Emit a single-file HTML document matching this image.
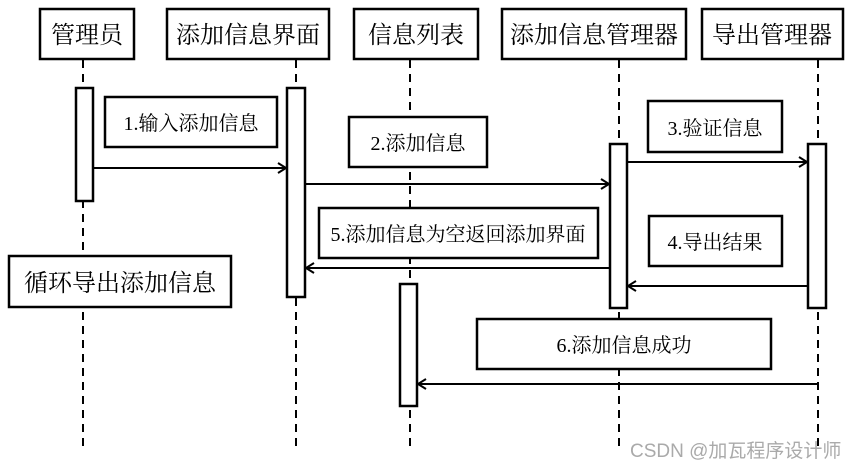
<!DOCTYPE html>
<html><head><meta charset="utf-8"><style>
html,body{margin:0;padding:0;background:#fff;}
svg{display:block;}
text{font-family:"Liberation Serif","Noto Serif CJK SC","Noto Sans CJK SC",serif;fill:#000;}
</style></head><body>
<svg width="855" height="468" viewBox="0 0 855 468" xmlns="http://www.w3.org/2000/svg">
<defs>
<marker id="a" markerWidth="12" markerHeight="12" refX="10" refY="6" orient="auto" markerUnits="userSpaceOnUse">
<path d="M2,1 L10,6 L2,11" fill="none" stroke="#000" stroke-width="2"/>
</marker>
</defs>
<g stroke="#000" stroke-width="2" stroke-dasharray="8,6" fill="none">
<line x1="83" y1="60" x2="83" y2="447"/>
<line x1="296" y1="60" x2="296" y2="447"/>
<line x1="410" y1="60" x2="410" y2="447"/>
<line x1="619" y1="60" x2="619" y2="447"/>
<line x1="818" y1="60" x2="818" y2="447"/>
</g>
<g stroke="#000" stroke-width="2.5" fill="#fff">
<rect x="40" y="9" width="94" height="50"/>
<rect x="167" y="9" width="162" height="50"/>
<rect x="354" y="9" width="124" height="50"/>
<rect x="502" y="9" width="184" height="50"/>
<rect x="702" y="9" width="141" height="50"/>
<rect x="76" y="88" width="17" height="113"/>
<rect x="287" y="88" width="18" height="209"/>
<rect x="400" y="284" width="17" height="122"/>
<rect x="610" y="144" width="17" height="164"/>
<rect x="808" y="144" width="18" height="164"/>
<rect x="105" y="97" width="172" height="50"/>
<rect x="349" y="117" width="138" height="50"/>
<rect x="648" y="101" width="134" height="51"/>
<rect x="319" y="208" width="279" height="50"/>
<rect x="649" y="216" width="133" height="50"/>
<rect x="9" y="256" width="222" height="51"/>
<rect x="477" y="319" width="294" height="50"/>
</g>
<g stroke="#000" stroke-width="2" fill="none" marker-end="url(#a)">
<line x1="93" y1="168" x2="286" y2="168"/>
<line x1="305" y1="184" x2="609" y2="184"/>
<line x1="627" y1="162" x2="807" y2="162"/>
<line x1="610" y1="268" x2="306" y2="268"/>
<line x1="808" y1="286" x2="628" y2="286"/>
<line x1="818" y1="384" x2="418" y2="384"/>
</g>
<g font-size="24" text-anchor="middle">
<text x="87" y="43">管理员</text>
<text x="248" y="43">添加信息界面</text>
<text x="416" y="43">信息列表</text>
<text x="594" y="43">添加信息管理器</text>
<text x="772" y="43">导出管理器</text>
<text x="120" y="291">循环导出添加信息</text>
</g>
<g font-size="20" text-anchor="middle">
<text x="191" y="130">1.输入添加信息</text>
<text x="418" y="150">2.添加信息</text>
<text x="715" y="135">3.验证信息</text>
<text x="458" y="241">5.添加信息为空返回添加界面</text>
<text x="715" y="249">4.导出结果</text>
<text x="624" y="352">6.添加信息成功</text>
</g>
<text x="630" y="457" font-size="19" style="font-family:'Liberation Sans','Noto Sans CJK SC',sans-serif;fill:#aaa">CSDN @加瓦程序设计师</text>
</svg>
</body></html>
